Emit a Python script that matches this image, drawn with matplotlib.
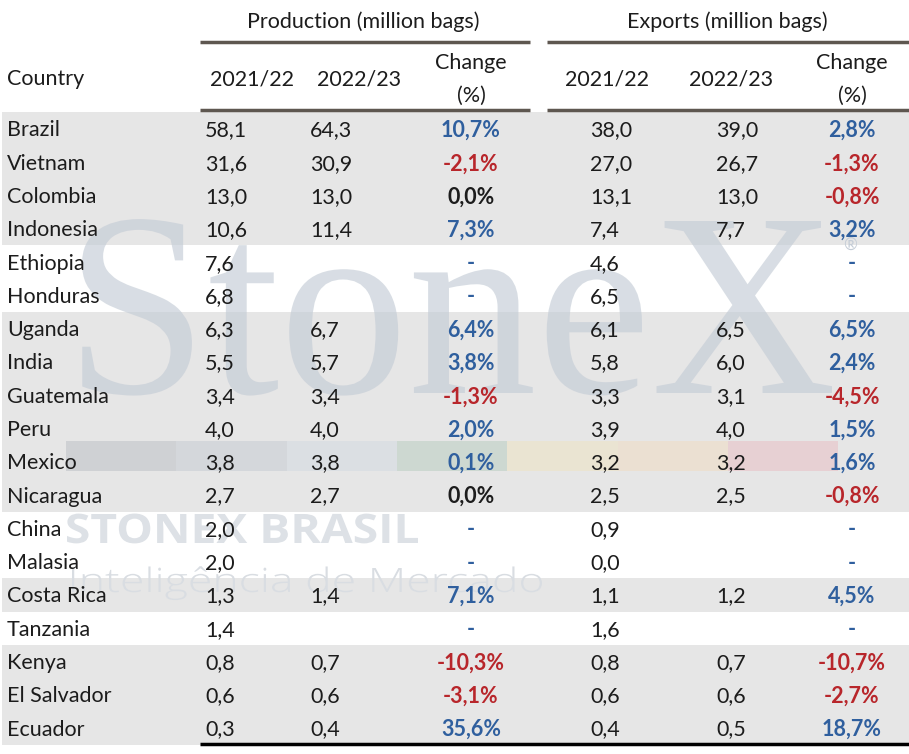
import numpy as np
import matplotlib.pyplot as plt
from matplotlib.patches import Rectangle, PathPatch
from matplotlib.textpath import TextPath
from matplotlib.font_manager import FontProperties
from matplotlib.transforms import Affine2D

countries = ["Brazil", "Vietnam", "Colombia", "Indonesia", "Ethiopia", "Honduras",
             "Uganda", "India", "Guatemala", "Peru", "Mexico", "Nicaragua", "China",
             "Malasia", "Costa Rica", "Tanzania", "Kenya", "El Salvador", "Ecuador"]
prod_2122 = [58.1, 31.6, 13.0, 10.6, 7.6, 6.8, 6.3, 5.5, 3.4, 4.0, 3.8, 2.7, 2.0,
             2.0, 1.3, 1.4, 0.8, 0.6, 0.3]
prod_2223 = [64.3, 30.9, 13.0, 11.4, None, None, 6.7, 5.7, 3.4, 4.0, 3.8, 2.7, None,
             None, 1.4, None, 0.7, 0.6, 0.4]
prod_chg = [10.7, -2.1, 0.0, 7.3, None, None, 6.4, 3.8, -1.3, 2.0, 0.1, 0.0, None,
            None, 7.1, None, -10.3, -3.1, 35.6]
exp_2122 = [38.0, 27.0, 13.1, 7.4, 4.6, 6.5, 6.1, 5.8, 3.3, 3.9, 3.2, 2.5, 0.9,
            0.0, 1.1, 1.6, 0.8, 0.6, 0.4]
exp_2223 = [39.0, 26.7, 13.0, 7.7, None, None, 6.5, 6.0, 3.1, 4.0, 3.2, 2.5, None,
            None, 1.2, None, 0.7, 0.6, 0.5]
exp_chg = [2.8, -1.3, -0.8, 3.2, None, None, 6.5, 2.4, -4.5, 1.5, 1.6, -0.8, None,
           None, 4.5, None, -10.7, -2.7, 18.7]
# shaded row groups (True = grey band)
shaded = [True] * 4 + [False] * 2 + [True] * 6 + [False] * 2 + [True, False] + [True] * 3

plt.rcParams['font.family'] = ['Lato', 'DejaVu Sans']
FS = 15.5
INK = "#1c1c1c"
BLUE = "#2f5f9e"
RED = "#b8262b"
LINE = "#5e5750"

fig = plt.figure(figsize=(9.09, 7.54), dpi=100)
ax = fig.add_axes([0, 0, 1, 1])
ax.set_xlim(0, 909)
ax.set_ylim(754, 0)
ax.axis("off")


def fmt(v):
    return "" if v is None else f"{v:.1f}".replace(".", ",")


def chg(v):
    if v is None:
        return "-", BLUE
    col = BLUE if v > 0 else (RED if v < 0 else INK)
    return f"{v:.1f}%".replace(".", ","), col


def stretched(s, prop, x0, x1, top, base, **kw):
    # lay a word into a box: width x0..x1, cap top..baseline
    tp = TextPath((0, 0), s, size=1, prop=prop)
    bb = tp.get_extents()
    cap = TextPath((0, 0), "I", size=1, prop=prop).get_extents().height
    tr = Affine2D().translate(-bb.x0, 0).scale((x1 - x0) / bb.width, -(base - top) / cap)
    tr = tr.translate(x0, base)
    ax.add_patch(PathPatch(tr.transform_path(tp), edgecolor="none", zorder=1, **kw))


y0, dy = 129, 33.28
for i, s in enumerate(shaded):
    if s:
        ax.add_patch(Rectangle((2, y0 + (i - 0.5) * dy), 907, dy,
                               facecolor="#e6e6e6", edgecolor="none", zorder=0))

# watermark
stretched("StoneX", FontProperties(family="Liberation Serif"), 82, 832, 221, 393,
          facecolor="#c4ccd6", alpha=0.65)
ax.text(850, 245, "®", fontsize=12, color="#c4ccd6", ha="center", va="center", zorder=1)
strip = ["#b9bec4", "#c3cad2", "#d2d9e1", "#b6cbbd", "#eee3c0", "#f0dbc0", "#e8bcc2"]
for k, c in enumerate(strip):
    ax.add_patch(Rectangle((66 + k * 110.3, 441), 110.3, 30, facecolor=c, alpha=0.5,
                           edgecolor="none", zorder=1))
stretched("STONEX BRASIL", FontProperties(family="Open Sans", weight="bold"),
          67, 418, 514, 543, facecolor="#dde1e6")
stretched("Inteligência de Mercado", FontProperties(family="Open Sans", weight="light"),
          72, 542, 568, 592, facecolor="#d9dde2")

# header
ax.text(363, 22, "Production (million bags)", fontsize=FS, ha="center", va="center", color=INK)
ax.text(727, 22, "Exports (million bags)", fontsize=FS, ha="center", va="center", color=INK)
for x1, x2 in [(200, 530), (547, 909)]:
    ax.plot([x1, x2], [42, 42], color=LINE, lw=2.5, solid_capstyle="butt")
    ax.plot([x1, x2], [110, 110], color=LINE, lw=2.5, solid_capstyle="butt")
ax.plot([200, 909], [744, 744], color="black", lw=2.5, solid_capstyle="butt")

ax.text(7, 79, "Country", fontsize=FS, ha="left", va="center", color=INK)
for x, lab in [(252, "2021/22"), (359, "2022/23"), (607, "2021/22"), (731, "2022/23")]:
    ax.text(x, 79, lab, fontsize=FS, ha="center", va="center", color=INK)
for x in [471, 852]:
    ax.text(x, 63, "Change", fontsize=FS, ha="center", va="center", color=INK)
    ax.text(x, 96, "(%)", fontsize=FS, ha="center", va="center", color=INK)

for i, name in enumerate(countries):
    y = y0 + i * dy + 1.5
    ax.text(7, y, name, fontsize=FS, ha="left", va="center", color=INK, zorder=3)
    ax.text(205, y, fmt(prod_2122[i]), fontsize=FS, ha="left", va="center", color=INK, zorder=3)
    ax.text(310, y, fmt(prod_2223[i]), fontsize=FS, ha="left", va="center", color=INK, zorder=3)
    ax.text(590, y, fmt(exp_2122[i]), fontsize=FS, ha="left", va="center", color=INK, zorder=3)
    ax.text(716, y, fmt(exp_2223[i]), fontsize=FS, ha="left", va="center", color=INK, zorder=3)
    for x, v in [(471, prod_chg[i]), (852, exp_chg[i])]:
        t, c = chg(v)
        ax.text(x, y, t, fontsize=FS, ha="center", va="center", color=c,
                fontweight="bold", zorder=3)

fig.savefig("out.png", dpi=100)
